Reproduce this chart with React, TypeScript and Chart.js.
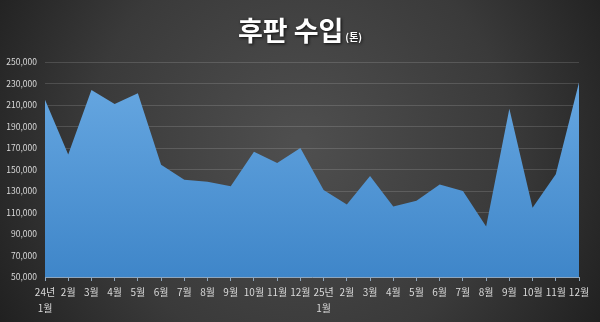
import React, { useEffect, useRef } from "react";
import { Chart, registerables } from "chart.js";

Chart.register(...registerables);

const categories: (string | string[])[] = [
  ["24년", "1월"], "2월", "3월", "4월", "5월", "6월", "7월", "8월", "9월", "10월", "11월", "12월",
  ["25년", "1월"], "2월", "3월", "4월", "5월", "6월", "7월", "8월", "9월", "10월", "11월", "12월",
];

const imports: number[] = [
  215000, 164000, 224000, 211000, 221000, 154500, 140500, 138500, 134500, 166500, 156000, 170000,
  131000, 117500, 144000, 115500, 121000, 136000, 130000, 97000, 206500, 114500, 145500, 231000,
];

const yMin = 50000;
const yMax = 250000;
const yStep = 20000;

const titleMain = "후판 수입";
const titleUnit = "(톤)";

const FONT = "'Noto Sans CJK KR', 'Noto Sans', sans-serif";

const bgPlugin = {
  id: "bgPlugin",
  beforeDraw(chart: any) {
    const { ctx, width, height } = chart;
    ctx.save();
    const g = ctx.createRadialGradient(width * 0.5, height * 0.45, 10, width * 0.5, height * 0.45, width * 0.62);
    g.addColorStop(0, "#4e4e4e");
    g.addColorStop(0.55, "#3a3a3a");
    g.addColorStop(1, "#1c1c1c");
    ctx.fillStyle = g;
    ctx.fillRect(0, 0, width, height);
    ctx.restore();
  },
};

const titlePlugin = {
  id: "titlePlugin",
  afterDraw(chart: any) {
    const { ctx, width } = chart;
    ctx.save();
    ctx.textBaseline = "alphabetic";
    const mainFont = `bold 27px ${FONT}`;
    const unitFont = `bold 10px ${FONT}`;
    ctx.font = mainFont;
    const w1 = ctx.measureText(titleMain).width;
    ctx.font = unitFont;
    const w2 = ctx.measureText(titleUnit).width;
    const x0 = width / 2 - (w1 + w2 + 2) / 2;
    const base = 41;
    ctx.shadowColor = "rgba(0,0,0,0.8)";
    ctx.shadowBlur = 3;
    ctx.shadowOffsetX = 1;
    ctx.shadowOffsetY = 1;
    ctx.fillStyle = "#ffffff";
    ctx.font = mainFont;
    ctx.textAlign = "left";
    ctx.fillText(titleMain, x0, base);
    ctx.font = unitFont;
    ctx.fillText(titleUnit, x0 + w1 + 2, base);
    ctx.restore();
  },
};

export default function App() {
  const ref = useRef<HTMLCanvasElement>(null);

  useEffect(() => {
    document.body.style.margin = "0";
    const canvas = ref.current!;
    const ctx = canvas.getContext("2d")!;
    const fill = ctx.createLinearGradient(0, 62, 0, 277);
    fill.addColorStop(0, "#6aaae3");
    fill.addColorStop(1, "#3f86c9");

    const chart = new Chart(canvas, {
      type: "line",
      data: {
        labels: categories,
        datasets: [
          {
            data: imports,
            fill: "start",
            backgroundColor: fill,
            borderColor: "rgba(0,0,0,0)",
            borderWidth: 0,
            pointRadius: 0,
            tension: 0,
          },
        ],
      },
      options: {
        responsive: false,
        animation: false,
        layout: { padding: { top: 62, left: 4, right: 21, bottom: 0 } },
        plugins: {
          legend: { display: false },
          title: { display: false },
          tooltip: { enabled: false },
        },
        scales: {
          x: {
            offset: false,
            afterFit: (s: any) => {
              s.height = 45;
            },
            grid: {
              display: true,
              drawOnChartArea: false,
              drawTicks: true,
              tickLength: 4,
              color: "#8fa6bd",
            },
            border: { display: true, color: "#8fa6bd", width: 1 },
            ticks: {
              color: "#d9d9d9",
              font: { family: FONT, size: 10, lineHeight: 1.6 },
              maxRotation: 0,
              minRotation: 0,
              autoSkip: false,
              padding: 3,
            },
          },
          y: {
            min: yMin,
            max: yMax,
            afterFit: (s: any) => {
              s.width = 41;
            },
            grid: {
              color: "rgba(255,255,255,0.14)",
              drawTicks: false,
              lineWidth: 1,
            },
            border: { display: false },
            ticks: {
              stepSize: yStep,
              color: "#d9d9d9",
              font: { family: FONT, size: 8.5 },
              padding: 8,
              callback: (v: any) => Number(v).toLocaleString("en-US"),
            },
          },
        },
      },
      plugins: [bgPlugin, titlePlugin],
    });
    return () => chart.destroy();
  }, []);

  return <canvas ref={ref} width={600} height={322} style={{ display: "block" }} />;
}
